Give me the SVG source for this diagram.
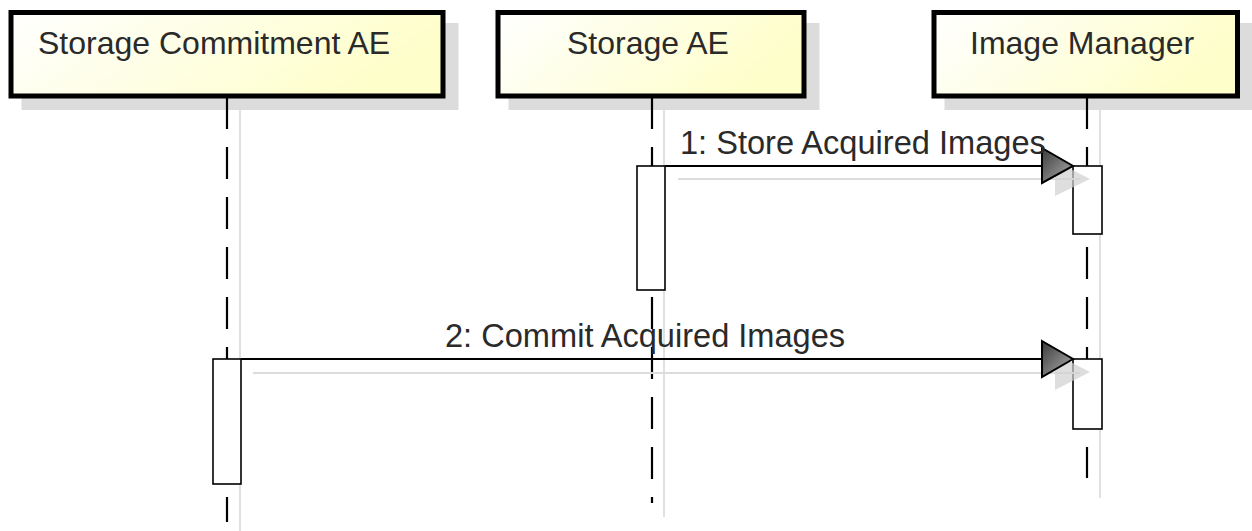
<svg xmlns="http://www.w3.org/2000/svg" width="1252" height="531" viewBox="0 0 1252 531">
<defs>
<linearGradient id="boxFill" x1="0" y1="0" x2="1" y2="0.3">
<stop offset="0" stop-color="#FFFFFF"/>
<stop offset="1" stop-color="#FEFECA"/>
</linearGradient>
<linearGradient id="arrowFill" x1="0" y1="0" x2="1" y2="1">
<stop offset="0" stop-color="#3a3a3a"/>
<stop offset="1" stop-color="#b0b0b0"/>
</linearGradient>
<style>
.hdr{fill:url(#boxFill);stroke:#000;stroke-width:5}
.hshadow{fill:#dcdcdc}
.txt{font-family:"Liberation Sans",Arial,sans-serif;font-size:32px;fill:#2a2a2a}
.lbl{font-size:32.6px}
.life{stroke:#000;stroke-width:2.2;stroke-dasharray:32 18;fill:none}
.lshadow{stroke:#e0e0e0;stroke-width:2;fill:none}
.act{fill:#fff;stroke:#000;stroke-width:1.6}
.msg{stroke:#000;stroke-width:2;fill:none}
.mshadow{stroke:#dcdcdc;stroke-width:2;fill:none}
.head{fill:url(#arrowFill);stroke:#000;stroke-width:2;stroke-linejoin:miter}
.hshad{fill:#d0d0d0;opacity:0.7}
</style>
</defs>
<rect width="1252" height="531" fill="#fff"/>

<g id="lifeline-shadows">
<line class="lshadow" x1="240" y1="110" x2="240" y2="531"/>
<line class="lshadow" x1="664" y1="110" x2="664" y2="517"/>
<line class="lshadow" x1="1100" y1="110" x2="1100" y2="498"/>
</g>

<g id="node-storage-commitment-ae">
<rect class="hshadow" x="21.5" y="23" width="437" height="87"/>
<line class="life" x1="227" y1="97" x2="227" y2="522"/>
<rect class="hdr" x="11" y="12.5" width="432" height="83.5"/>
<text class="txt" x="38" y="54">Storage Commitment AE</text>
</g>

<g id="node-storage-ae">
<rect class="hshadow" x="508.5" y="23" width="311" height="87"/>
<line class="life" x1="652" y1="97" x2="652" y2="503"/>
<rect class="hdr" x="498" y="12.5" width="306" height="83.5"/>
<text class="txt" x="567" y="54">Storage AE</text>
</g>

<g id="node-image-manager">
<rect class="hshadow" x="944.5" y="23" width="308" height="87"/>
<line class="life" x1="1087" y1="97" x2="1087" y2="478"/>
<rect class="hdr" x="934" y="12.5" width="303.5" height="83.5"/>
<text class="txt" x="970" y="54">Image Manager</text>
</g>

<g id="activations">
<rect class="act" x="637" y="166" width="28" height="124"/>
<rect class="act" x="1073" y="166" width="29" height="68"/>
<rect class="act" x="213" y="359" width="28" height="125"/>
<rect class="act" x="1073" y="359" width="29" height="70"/>
</g>

<g id="connectors">
<g id="msg1">
<line class="mshadow" x1="678" y1="179" x2="1080" y2="179"/>
<line class="msg" x1="665" y1="166" x2="1060" y2="166"/>
<polygon class="hshad" points="1055,161 1090,179 1055,196"/>
<polygon class="head" points="1042,148 1073,166 1042,183"/>
<text class="txt lbl" x="680" y="154">1: Store Acquired Images</text>
</g>
<g id="msg2">
<line class="mshadow" x1="253" y1="373" x2="1080" y2="373"/>
<line class="msg" x1="241" y1="359" x2="1060" y2="359"/>
<polygon class="hshad" points="1055,354 1090,372 1055,390"/>
<polygon class="head" points="1042,341 1073,359 1042,377"/>
<text class="txt lbl" x="445" y="347">2: Commit Acquired Images</text>
</g>
</g>
</svg>
